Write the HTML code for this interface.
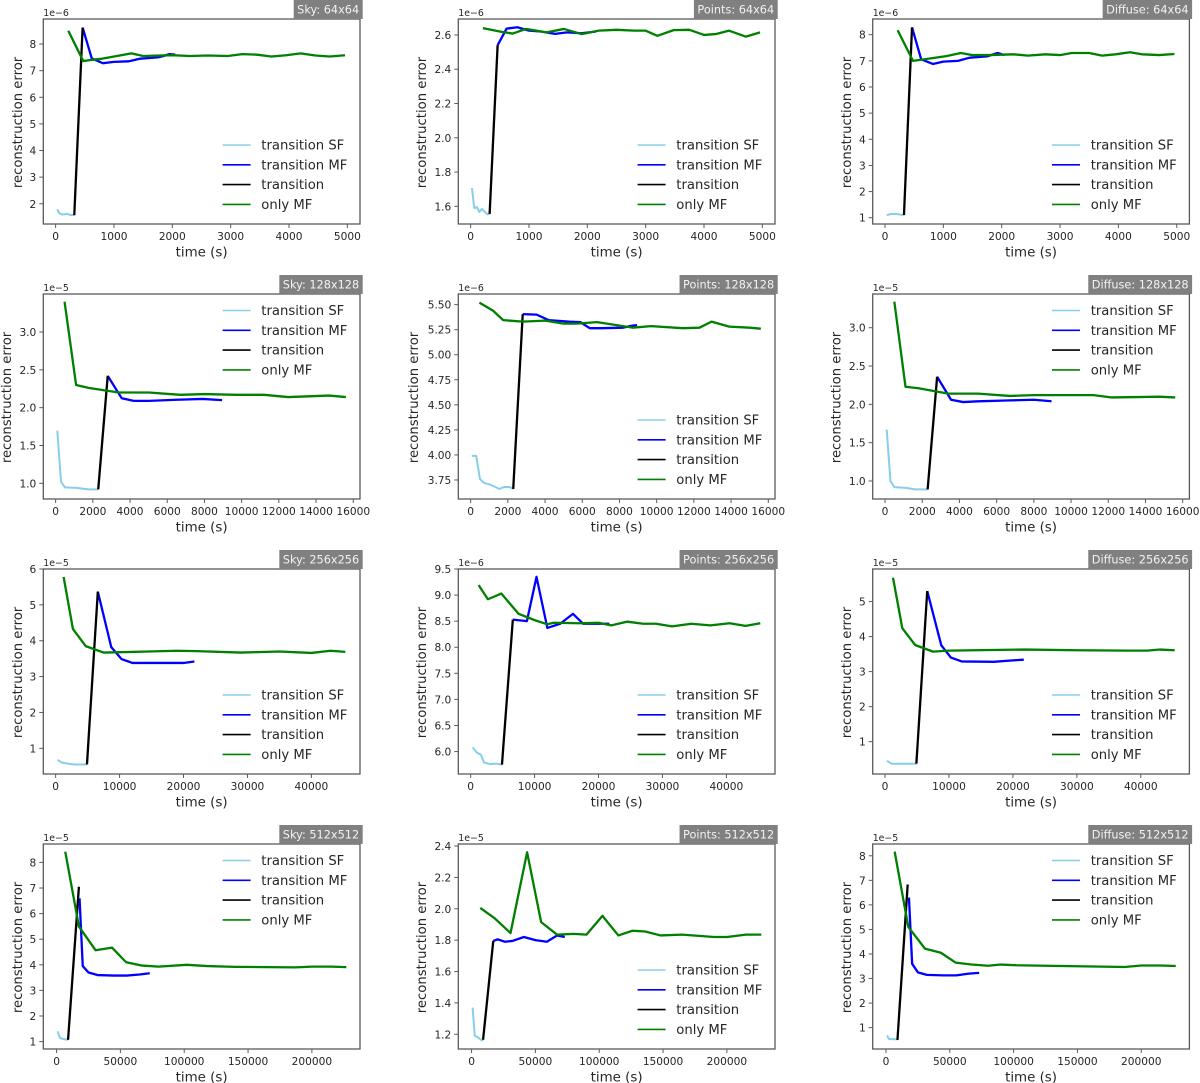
<!DOCTYPE html>
<html lang="en">
<head>
<meta charset="utf-8">
<title>Reconstruction error over time</title>
<style>
html,body{margin:0;padding:0;background:#fff;}
body{width:1200px;height:1083px;overflow:hidden;}
svg{display:block;filter:blur(0.3px);}
text{font-family:"DejaVu Sans","Liberation Sans",sans-serif;fill:#262626;}
</style>
</head>
<body>
<svg id="chart" xmlns="http://www.w3.org/2000/svg" width="1200" height="1083" viewBox="0 0 1200 1083"></svg>
<script>
/* x-axis tick labels */
const timeTicks64=["0","1000","2000","3000","4000","5000"];
const timeTicks128=["0","2000","4000","6000","8000","10000","12000","14000","16000"];
const timeTicks256=["0","10000","20000","30000","40000"];
const timeTicks512=["0","50000","100000","150000","200000"];
/* x-axis limits */
const timeLim64=[-211,5217];
const timeLim128=[-663,16362];
const timeLim256=[-1929,47601];
const timeLim512=[-10400,237700];

/* y-axis tick labels */
const ticksSky64=["2","3","4","5","6","7","8"];
const ticksPoints64=["1.6","1.8","2.0","2.2","2.4","2.6"];
const ticksDiffuse64=["1","2","3","4","5","6","7","8"];
const ticksSky128=["1.0","1.5","2.0","2.5","3.0"];
const ticksPoints128=["3.75","4.00","4.25","4.50","4.75","5.00","5.25","5.50"];
const ticksDiffuse128=["1.0","1.5","2.0","2.5","3.0"];
const ticksSky256=["1","2","3","4","5","6"];
const ticksPoints256=["6.0","6.5","7.0","7.5","8.0","8.5","9.0","9.5"];
const ticksDiffuse256=["1","2","3","4","5"];
const ticksSky512=["1","2","3","4","5","6","7","8"];
const ticksPoints512=["1.2","1.4","1.6","1.8","2.0","2.2","2.4"];
const ticksDiffuse512=["1","2","3","4","5","6","7","8"];

/* Sky 64x64 */
const sky64SfT=[30,60,100,150,200,250,320];
const sky64SfE=[1.8,1.65,1.6,1.6,1.62,1.58,1.58];
const sky64TrT=[320,463];
const sky64TrE=[1.57,8.62];
const sky64MfT=[463,620,810,1000,1250,1450,1750,1850,1950,2050];
const sky64MfE=[8.62,7.46,7.28,7.33,7.35,7.45,7.5,7.55,7.62,7.6];
const sky64OnlyT=[217,474,600,800,1050,1300,1500,2000,2300,2600,2950,3200,3450,3700,3950,4200,4450,4700,4960];
const sky64OnlyE=[8.5,7.36,7.4,7.45,7.55,7.65,7.55,7.58,7.55,7.57,7.55,7.62,7.6,7.53,7.58,7.65,7.57,7.53,7.58];

/* Points 64x64 */
const points64SfT=[23,63,109,149,194,251,291,326];
const points64SfE=[1.707,1.59,1.595,1.567,1.585,1.565,1.553,1.556];
const points64TrT=[326,463];
const points64TrE=[1.556,2.54];
const points64MfT=[463,617,800,1000,1200,1450,1650,1900,2150];
const points64MfE=[2.54,2.637,2.645,2.625,2.62,2.606,2.615,2.61,2.62];
const points64OnlyT=[210,500,720,950,1300,1600,1900,2200,2500,2800,3000,3200,3480,3750,4000,4200,4430,4720,4960];
const points64OnlyE=[2.64,2.62,2.608,2.635,2.615,2.635,2.605,2.625,2.63,2.625,2.625,2.595,2.628,2.63,2.6,2.605,2.625,2.59,2.615];

/* Diffuse 64x64 */
const diffuse64SfT=[30,100,200,320];
const diffuse64SfE=[1.1,1.14,1.14,1.1];
const diffuse64TrT=[325,463];
const diffuse64TrE=[1.1,8.28];
const diffuse64MfT=[463,620,820,1000,1250,1450,1750,1930,2050];
const diffuse64MfE=[8.28,7.06,6.88,6.97,7.0,7.12,7.17,7.3,7.22];
const diffuse64OnlyT=[217,480,800,1050,1300,1500,1800,2200,2450,2750,3000,3200,3500,3720,3950,4200,4400,4700,4960];
const diffuse64OnlyE=[8.17,7.0,7.1,7.18,7.3,7.22,7.22,7.25,7.2,7.25,7.22,7.3,7.3,7.2,7.25,7.33,7.25,7.22,7.26];

/* Sky 128x128 */
const sky128SfT=[90,290,500,1130,1750,2290];
const sky128SfE=[1.696,1.02,.947,.94,.92,.92];
const sky128TrT=[2290,2800];
const sky128TrE=[.92,2.42];
const sky128MfT=[2800,3550,4200,5000,6500,7900,8950];
const sky128MfE=[2.42,2.125,2.09,2.09,2.105,2.115,2.1];
const sky128OnlyT=[480,1100,1800,3400,5000,6700,8000,9700,11200,12500,14700,15600];
const sky128OnlyE=[3.4,2.3,2.26,2.2,2.2,2.17,2.18,2.17,2.17,2.14,2.16,2.14];

/* Points 128x128 */
const points128SfT=[60,300,500,730,1100,1550,1800,2100,2290];
const points128SfE=[3.99,3.99,3.76,3.72,3.7,3.66,3.68,3.68,3.66];
const points128TrT=[2290,2800];
const points128TrE=[3.66,5.405];
const points128MfT=[2800,3550,4200,5300,5900,6400,7000,8200,8700,8950];
const points128MfE=[5.405,5.4,5.345,5.33,5.325,5.265,5.265,5.27,5.29,5.295];
const points128OnlyT=[470,1200,1750,2800,4000,5000,5700,6800,8700,9700,11400,12300,12950,13900,15000,15600];
const points128OnlyE=[5.52,5.44,5.345,5.33,5.34,5.31,5.31,5.325,5.27,5.285,5.265,5.27,5.33,5.28,5.27,5.26];

/* Diffuse 128x128 */
const diffuse128SfT=[90,290,500,1130,1600,2290];
const diffuse128SfE=[1.67,1.0,.92,.91,.89,.89];
const diffuse128TrT=[2290,2800];
const diffuse128TrE=[.89,2.36];
const diffuse128MfT=[2800,3550,4200,5000,6500,8000,8950];
const diffuse128MfE=[2.36,2.06,2.03,2.04,2.05,2.06,2.04];
const diffuse128OnlyT=[500,1100,1800,3400,5000,6700,8000,9700,11200,12200,14700,15600];
const diffuse128OnlyE=[3.34,2.23,2.21,2.14,2.14,2.11,2.12,2.12,2.12,2.09,2.1,2.09];

/* Sky 256x256 */
const sky256SfT=[300,1000,2000,3000,4900];
const sky256SfE=[.68,.6,.57,.55,.55];
const sky256TrT=[4900,6600];
const sky256TrE=[.55,5.37];
const sky256MfT=[6600,8700,10300,12000,17000,20000,21700];
const sky256MfE=[5.37,3.82,3.49,3.38,3.38,3.38,3.42];
const sky256OnlyT=[1250,2700,4700,7500,10000,14500,19000,22000,29000,35000,40000,43000,45300];
const sky256OnlyE=[5.78,4.33,3.85,3.67,3.68,3.7,3.72,3.71,3.67,3.7,3.66,3.72,3.69];

/* Points 256x256 */
const points256SfT=[300,1000,1600,2100,3000,4000,4900];
const points256SfE=[6.08,5.98,5.94,5.79,5.76,5.77,5.75];
const points256TrT=[4900,6600];
const points256TrE=[5.75,8.53];
const points256MfT=[6600,8800,10300,12000,14000,16000,17600,20000,21700];
const points256MfE=[8.53,8.5,9.35,8.37,8.45,8.64,8.45,8.45,8.45];
const points256OnlyT=[1250,2700,4800,7500,10000,12000,13000,17000,20000,22000,24500,27000,29000,31500,34500,37500,40500,43000,45300];
const points256OnlyE=[9.19,8.92,9.03,8.64,8.52,8.44,8.47,8.46,8.47,8.42,8.49,8.45,8.45,8.4,8.45,8.42,8.46,8.41,8.46];

/* Diffuse 256x256 */
const diffuse256SfT=[300,1000,2000,4900];
const diffuse256SfE=[.45,.37,.37,.37];
const diffuse256TrT=[4900,6600];
const diffuse256TrE=[.37,5.3];
const diffuse256MfT=[6600,8800,10300,12000,17000,20000,21700];
const diffuse256MfE=[5.3,3.75,3.4,3.29,3.28,3.32,3.34];
const diffuse256OnlyT=[1250,2700,4700,7500,10000,14000,22000,30000,38000,41000,43000,45300];
const diffuse256OnlyE=[5.68,4.24,3.76,3.57,3.6,3.61,3.63,3.61,3.6,3.6,3.63,3.61];

/* Sky 512x512 */
const sky512SfT=[800,2500,5000,9000];
const sky512SfE=[1.4,1.15,1.1,1.07];
const sky512TrT=[9000,17500];
const sky512TrE=[1.07,7.05];
const sky512MfT=[18000,20500,25000,32000,45000,55000,65000,73000];
const sky512MfE=[6.6,3.95,3.7,3.6,3.58,3.58,3.62,3.67];
const sky512OnlyT=[6800,17500,30500,43500,54500,67000,80000,102000,118000,140000,165000,187000,200000,215000,227000];
const sky512OnlyE=[8.42,5.5,4.57,4.67,4.1,3.97,3.93,4.0,3.95,3.92,3.91,3.9,3.93,3.93,3.91];

/* Points 512x512 */
const points512SfT=[800,2500,5000,8000,9000];
const points512SfE=[1.37,1.19,1.18,1.16,1.165];
const points512TrT=[9000,17000];
const points512TrE=[1.165,1.795];
const points512MfT=[17000,20500,26000,32000,41000,50000,59000,67000,73000];
const points512MfE=[1.795,1.805,1.79,1.795,1.82,1.8,1.79,1.83,1.82];
const points512OnlyT=[6800,18000,30500,43500,54500,67000,80000,90000,102500,115000,126000,136000,148000,165000,190000,200000,215000,227000];
const points512OnlyE=[2.005,1.94,1.845,2.36,1.915,1.835,1.84,1.835,1.955,1.83,1.86,1.855,1.83,1.835,1.82,1.82,1.835,1.835];

/* Diffuse 512x512 */
const diffuse512SfT=[800,2500,5000,9000];
const diffuse512SfE=[.68,.53,.53,.52];
const diffuse512TrT=[9000,17000];
const diffuse512TrE=[.5,6.83];
const diffuse512MfT=[18000,20500,25000,32000,45000,55000,65000,73000];
const diffuse512MfE=[6.3,3.6,3.25,3.15,3.13,3.13,3.2,3.23];
const diffuse512OnlyT=[6800,17500,30500,43000,54500,67000,80000,90000,102000,125000,150000,187000,200000,215000,227000];
const diffuse512OnlyE=[8.17,5.1,4.22,4.05,3.65,3.57,3.52,3.57,3.54,3.52,3.5,3.47,3.53,3.53,3.51];

const legendLabels=["transition SF","transition MF","transition","only MF"];
const legendColors=["#87ceeb","#0000ff","#000000","#008000"];

const panels=[
 {title:"Sky: 64x64",col:0,row:0,xT:timeTicks64,xL:timeLim64,yT:ticksSky64,yL:[1.24,8.94],exp:"1e\u22126",up:false,sf:[sky64SfT,sky64SfE],mf:[sky64MfT,sky64MfE],tr:[sky64TrT,sky64TrE],only:[sky64OnlyT,sky64OnlyE]},
 {title:"Points: 64x64",col:1,row:0,xT:timeTicks64,xL:timeLim64,yT:ticksPoints64,yL:[1.497,2.693],exp:"1e\u22126",up:false,sf:[points64SfT,points64SfE],mf:[points64MfT,points64MfE],tr:[points64TrT,points64TrE],only:[points64OnlyT,points64OnlyE]},
 {title:"Diffuse: 64x64",col:2,row:0,xT:timeTicks64,xL:timeLim64,yT:ticksDiffuse64,yL:[.76,8.6],exp:"1e\u22126",up:false,sf:[diffuse64SfT,diffuse64SfE],mf:[diffuse64MfT,diffuse64MfE],tr:[diffuse64TrT,diffuse64TrE],only:[diffuse64OnlyT,diffuse64OnlyE]},
 {title:"Sky: 128x128",col:0,row:1,xT:timeTicks128,xL:timeLim128,yT:ticksSky128,yL:[.793,3.502],exp:"1e\u22125",up:true,sf:[sky128SfT,sky128SfE],mf:[sky128MfT,sky128MfE],tr:[sky128TrT,sky128TrE],only:[sky128OnlyT,sky128OnlyE]},
 {title:"Points: 128x128",col:1,row:1,xT:timeTicks128,xL:timeLim128,yT:ticksPoints128,yL:[3.56,5.606],exp:"1e\u22126",up:false,sf:[points128SfT,points128SfE],mf:[points128MfT,points128MfE],tr:[points128TrT,points128TrE],only:[points128OnlyT,points128OnlyE]},
 {title:"Diffuse: 128x128",col:2,row:1,xT:timeTicks128,xL:timeLim128,yT:ticksDiffuse128,yL:[.765,3.44],exp:"1e\u22125",up:true,sf:[diffuse128SfT,diffuse128SfE],mf:[diffuse128MfT,diffuse128MfE],tr:[diffuse128TrT,diffuse128TrE],only:[diffuse128OnlyT,diffuse128OnlyE]},
 {title:"Sky: 256x256",col:0,row:2,xT:timeTicks256,xL:timeLim256,yT:ticksSky256,yL:[.284,6.0],exp:"1e\u22125",up:false,sf:[sky256SfT,sky256SfE],mf:[sky256MfT,sky256MfE],tr:[sky256TrT,sky256TrE],only:[sky256OnlyT,sky256OnlyE]},
 {title:"Points: 256x256",col:1,row:2,xT:timeTicks256,xL:timeLim256,yT:ticksPoints256,yL:[5.57,9.5],exp:"1e\u22126",up:false,sf:[points256SfT,points256SfE],mf:[points256MfT,points256MfE],tr:[points256TrT,points256TrE],only:[points256OnlyT,points256OnlyE]},
 {title:"Diffuse: 256x256",col:2,row:2,xT:timeTicks256,xL:timeLim256,yT:ticksDiffuse256,yL:[.076,5.93],exp:"1e\u22125",up:false,sf:[diffuse256SfT,diffuse256SfE],mf:[diffuse256MfT,diffuse256MfE],tr:[diffuse256TrT,diffuse256TrE],only:[diffuse256OnlyT,diffuse256OnlyE]},
 {title:"Sky: 512x512",col:0,row:3,xT:timeTicks512,xL:timeLim512,yT:ticksSky512,yL:[.71,8.72],exp:"1e\u22125",up:true,sf:[sky512SfT,sky512SfE],mf:[sky512MfT,sky512MfE],tr:[sky512TrT,sky512TrE],only:[sky512OnlyT,sky512OnlyE]},
 {title:"Points: 512x512",col:1,row:3,xT:timeTicks512,xL:timeLim512,yT:ticksPoints512,yL:[1.106,2.413],exp:"1e\u22125",up:false,sf:[points512SfT,points512SfE],mf:[points512MfT,points512MfE],tr:[points512TrT,points512TrE],only:[points512OnlyT,points512OnlyE]},
 {title:"Diffuse: 512x512",col:2,row:3,xT:timeTicks512,xL:timeLim512,yT:ticksDiffuse512,yL:[.13,8.48],exp:"1e\u22125",up:true,sf:[diffuse512SfT,diffuse512SfE],mf:[diffuse512MfT,diffuse512MfE],tr:[diffuse512TrT,diffuse512TrE],only:[diffuse512OnlyT,diffuse512OnlyE]}
];

const NS="http://www.w3.org/2000/svg";
const root=document.getElementById("chart");
const colLeft=[43.3,458.3,872.7];
const rowTop=[19,294,569,844];
const AXW=316.7,AXH=205;
const SPINE="#5a5a5a";

function mk(tag,attrs,parent){
  const n=document.createElementNS(NS,tag);
  for(const k in attrs){n.setAttribute(k,attrs[k]);}
  parent.appendChild(n);
  return n;
}
function scale(d0,d1,r0,r1){
  return function(v){return r0+(v-d0)*(r1-r0)/(d1-d0);};
}

panels.forEach(function(p){
  const L=colLeft[p.col],T=rowTop[p.row],R=L+AXW,B=T+AXH;
  const sx=scale(p.xL[0],p.xL[1],L,R);
  const sy=scale(p.yL[0],p.yL[1],B,T);

  const g=mk("g",{},root);
  
  

  /* series, drawn in plotting order */
  const seriesList=[p.sf,p.mf,p.tr,p.only];
  seriesList.forEach(function(s,i){
    let d="";
    s[0].forEach(function(t,j){
      d+=(j?"L":"M")+sx(t).toFixed(2)+" "+sy(s[1][j]).toFixed(2);
    });
    const line=mk("path",{d:d,fill:"none",stroke:legendColors[i],"stroke-width":i===0?2:2.3,"stroke-linejoin":"round"},g);
    
    
  });

  /* frame */
  const frame=mk("rect",{x:L,y:T,width:AXW,height:AXH,fill:"none",stroke:SPINE,"stroke-width":1.3},g);
  
  

  /* x ticks */
  p.xT.forEach(function(lbl){
    const x=sx(Number(lbl));
    const tick=mk("line",{x1:x,x2:x,y1:B,y2:B+4,stroke:SPINE,"stroke-width":1},g);
    
    
    const tl=mk("text",{x:x,y:B+16,"text-anchor":"middle","font-size":"10.6"},g);
    tl.textContent=lbl;
    
    
  });

  /* y ticks */
  let longest=0;
  p.yT.forEach(function(lbl){
    const y=sy(Number(lbl));
    longest=Math.max(longest,lbl.length);
    const tick=mk("line",{x1:L-4,x2:L,y1:y,y2:y,stroke:SPINE,"stroke-width":1},g);
    
    
    const tl=mk("text",{x:L-7,y:y+4,"text-anchor":"end","font-size":"10.6"},g);
    tl.textContent=lbl;
    
    
  });

  /* axis titles */
  const xt=mk("text",{x:(L+R)/2,y:B+32.5,"text-anchor":"middle","font-size":"13.4"},g);
  xt.textContent="time (s)";
  
  

  const off=longest===1?26:(longest===3?36.6:45);
  const cx=L-off+4.5,cy=(T+B)/2+1;
  const yt=mk("text",{x:cx,y:cy,"text-anchor":"middle","font-size":"13.2",transform:"rotate(-90 "+cx+" "+cy+")"},g);
  yt.textContent="reconstruction error";
  
  

  /* offset text */
  const ex=mk("text",{x:L,y:T-3,"font-size":"9.4"},g);
  ex.textContent=p.exp;
  
  

  /* legend */
  const legend=mk("g",{},g);
  
  
  const legTop=T+(p.up?16.5:126);
  legendLabels.forEach(function(lbl,i){
    const y=legTop+i*19.8;
    const entry=mk("g",{},legend);
    
    
    const h=mk("line",{x1:L+179.3,x2:L+207.3,y1:y,y2:y,stroke:legendColors[i],"stroke-width":1.6},entry);
    
    
    const t=mk("text",{x:L+218,y:y+4.6,"font-size":"13.2"},entry);
    t.textContent=lbl;
    
    
  });

  /* title chip */
  const chip=mk("rect",{y:T-19,height:19,fill:"#808080"},g);
  
  
  const title=mk("text",{y:T-5.5,"text-anchor":"middle","font-size":"11.3",style:"fill:#f2f2f2"},g);
  title.textContent=p.title;
  
  
  const w=title.getComputedTextLength()+7;
  const chipRight=R+2.7;
  chip.setAttribute("x",chipRight-w);
  chip.setAttribute("width",w);
  title.setAttribute("x",chipRight-w/2);
});
</script>
</body>
</html>
